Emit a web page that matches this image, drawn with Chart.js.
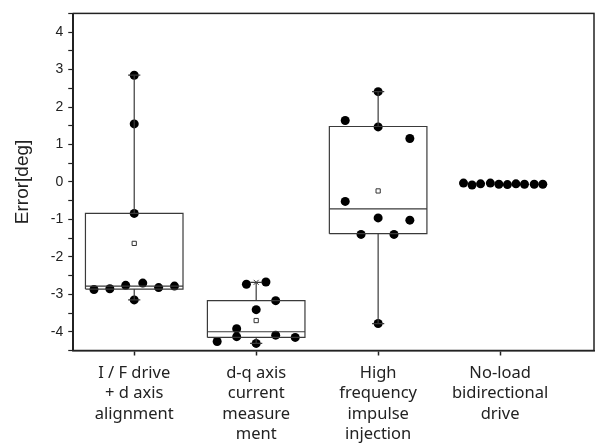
<!DOCTYPE html>
<html>
<head>
<meta charset="utf-8">
<script src="https://cdn.jsdelivr.net/npm/chart.js@4/dist/chart.umd.min.js"></script>
<style>
  html, body { margin: 0; padding: 0; background: #fff; }
  #wrap { width: 599px; height: 445px; }
</style>
</head>
<body>
<div id="wrap"><canvas id="chart"></canvas></div>
<script>
// categories on the x axis (multi-line labels)
const categories = [
    ['I / F drive', '+ d axis', 'alignment'],
    ['d-q axis', 'current', 'measure', 'ment'],
    ['High', 'frequency', 'impulse', 'injection'],
    ['No-load', 'bidirectional', 'drive']
];

// box statistics per category (null = no box drawn)
const boxQ1 = [-2.86, -4.15, -1.38, null];
const boxQ3 = [-0.84, -3.17, 1.48, null];
const boxMedian = [-2.78, -4.00, -0.72, null];
const boxMean = [-1.64, -3.70, -0.24, -0.05];
const whiskerLow = [-3.15, -4.31, -3.78, null];
const whiskerHigh = [2.85, -2.68, 2.41, null];

// raw points: horizontal jitter (in category units) and error values
const pointJitter = [
    [-0.33, -0.2, -0.07, 0.07, 0.2, 0.33, 0, 0, 0, 0],
    [-0.08, 0.08, 0.16, 0, -0.16, -0.32, -0.16, 0, 0.16, 0.32],
    [0, 0, 0, 0, -0.27, 0.26, -0.27, 0.26, -0.14, 0.13],
    [-0.3, -0.23, -0.16, -0.08, -0.01, 0.06, 0.13, 0.2, 0.28, 0.35]
];
const pointValues = [
    [-2.87, -2.85, -2.76, -2.70, -2.82, -2.78, 2.85, 1.55, -0.84, -3.15],
    [-2.73, -2.67, -3.17, -3.41, -3.92, -4.26, -4.13, -4.31, -4.09, -4.15],
    [2.41, 1.47, -0.96, -3.78, 1.64, 1.16, -0.52, -1.02, -1.40, -1.40],
    [-0.03, -0.08, -0.05, -0.03, -0.06, -0.07, -0.05, -0.06, -0.06, -0.06]
];

const yTicks = [-4, -3, -2, -1, 0, 1, 2, 3, 4];

const lineColor = '#3a3a3a';
const halfWidth = 0.4;
const capWidth = 0.05;

function seg(points) {
    return {
        type: 'scatter',
        data: points,
        showLine: true,
        borderColor: lineColor,
        borderWidth: 1.2,
        pointRadius: 0,
        fill: false
    };
}

const datasets = [];
categories.forEach((_, i) => {
    const x = i + 1;
    if (boxQ1[i] !== null) {
        datasets.push(seg([
            {x: x - halfWidth, y: boxQ1[i]}, {x: x + halfWidth, y: boxQ1[i]},
            {x: x + halfWidth, y: boxQ3[i]}, {x: x - halfWidth, y: boxQ3[i]},
            {x: x - halfWidth, y: boxQ1[i]}
        ]));
        datasets.push(seg([{x: x - halfWidth, y: boxMedian[i]}, {x: x + halfWidth, y: boxMedian[i]}]));
        datasets.push(seg([{x: x, y: boxQ3[i]}, {x: x, y: whiskerHigh[i]}]));
        datasets.push(seg([{x: x, y: boxQ1[i]}, {x: x, y: whiskerLow[i]}]));
        datasets.push(seg([{x: x - capWidth, y: whiskerHigh[i]}, {x: x + capWidth, y: whiskerHigh[i]}]));
        datasets.push(seg([{x: x - capWidth, y: whiskerLow[i]}, {x: x + capWidth, y: whiskerLow[i]}]));
    }
});

// max marker visible on the second box
datasets.push({
    type: 'scatter',
    data: [{x: 2, y: whiskerHigh[1]}],
    pointStyle: 'crossRot',
    pointRadius: 3.5,
    borderColor: lineColor,
    borderWidth: 1
});

// data points
categories.forEach((_, i) => {
    datasets.push({
        type: 'scatter',
        data: pointValues[i].map((v, j) => ({x: i + 1 + pointJitter[i][j], y: v})),
        pointRadius: 4.5,
        backgroundColor: '#000',
        borderWidth: 0
    });
});

// means
datasets.push({
    type: 'scatter',
    data: boxMean.map((v, i) => (boxQ1[i] === null ? null : {x: i + 1, y: v})).filter(p => p),
    pointStyle: 'rect',
    pointRadius: 3,
    backgroundColor: '#fff',
    borderColor: '#333',
    borderWidth: 1
});

const frame = {
    id: 'frame',
    afterDraw(chart) {
        const a = chart.chartArea;
        const c = chart.ctx;
        c.save();
        c.strokeStyle = '#222';
        c.lineWidth = 1.5;
        c.strokeRect(a.left, a.top, a.right - a.left, a.bottom - a.top);
        c.restore();
    }
};

new Chart(document.getElementById('chart'), {
    type: 'scatter',
    data: {datasets},
    plugins: [frame],
    options: {
        responsive: true,
        maintainAspectRatio: false,
        animation: false,
        layout: {padding: {top: 9, right: 5, bottom: -7, left: 11}},
        plugins: {legend: {display: false}, tooltip: {enabled: false}},
        scales: {
            x: {
                type: 'linear',
                min: 0.5,
                max: 4.77,
                afterBuildTicks: axis => { axis.ticks = [1, 2, 3, 4].map(v => ({value: v})); },
                ticks: {
                    autoSkip: false,
                    maxRotation: 0,
                    padding: 7,
                    color: '#222',
                    font: {family: 'Noto Sans', size: 16.5, lineHeight: 1.25},
                    callback: v => categories[v - 1]
                },
                grid: {drawOnChartArea: false, tickLength: 5, color: '#222', tickWidth: 1.5},
                border: {color: '#222', width: 1.5}
            },
            y: {
                min: -4.5,
                max: 4.5,
                afterBuildTicks: axis => {
                    const t = [];
                    for (let v = -4.5; v <= 4.5; v += 0.5) t.push({value: v});
                    axis.ticks = t;
                },
                ticks: {
                    autoSkip: false,
                    padding: 5,
                    color: '#222',
                    font: {family: 'Arial, Liberation Sans', size: 14},
                    callback: v => (yTicks.includes(v) ? String(v) : '')
                },
                title: {
                    display: true,
                    text: 'Error[deg]',
                    color: '#222',
                    font: {family: 'Arial, Liberation Sans', size: 19},
                    padding: {top: 0, bottom: 12}
                },
                grid: {drawOnChartArea: false, tickLength: 5, color: '#222', tickWidth: 1.2},
                border: {color: '#222', width: 1.5}
            }
        }
    }
});
</script>
</body>
</html>
